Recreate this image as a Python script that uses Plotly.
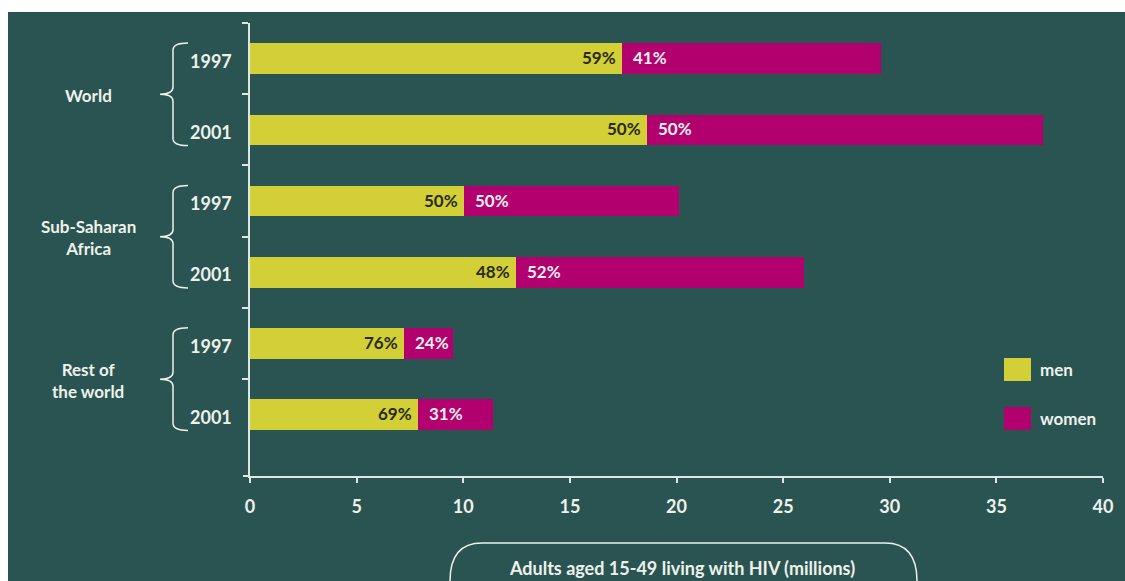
import plotly.graph_objects as go

# ---- data -------------------------------------------------------------
regions = ["World", "Sub-Saharan<br>Africa", "Rest of<br>the world"]
years = ["1997", "2001", "1997", "2001", "1997", "2001"]
totals = [29.6, 37.2, 20.1, 26.0, 9.5, 11.4]          # adults living with HIV, millions
men_share = [59, 50, 50, 48, 76, 69]                 # % of adults who are men
women_share = [41, 50, 50, 52, 24, 31]               # % of adults who are women
x_ticks = [0, 5, 10, 15, 20, 25, 30, 35, 40]

men = [t * s / 100 for t, s in zip(totals, men_share)]
women = [t * s / 100 for t, s in zip(totals, women_share)]
pos = list(range(len(years)))

# ---- style ------------------------------------------------------------
BG = "#2a5452"
YELLOW = "#d3cf36"
MAGENTA = "#b3006f"
LIGHT = "#eef1ea"
DARK = "#2a2a12"
AXIS = "#dde8e3"
FONT = "Lato"

W, H = 1125, 581
ML, MR, MT, MB = 250, 22, 23, 105
PW, PH = W - ML - MR, H - MT - MB
Y_RANGE = [5.86, -0.5]


def px2x(px):
    return (px - ML) / PW


def py2y(py):
    return (H - MB - py) / PH


fig = go.Figure()
fig.add_trace(go.Bar(y=pos, x=men, orientation="h", width=0.43,
                     marker=dict(color=YELLOW, line=dict(width=0)),
                     name="men", showlegend=False, hoverinfo="x"))
fig.add_trace(go.Bar(y=pos, x=women, orientation="h", width=0.43,
                     marker=dict(color=MAGENTA, line=dict(width=0)),
                     name="women", showlegend=False, hoverinfo="x"))

ann = []
# percentage labels at the men/women boundary
for p, m, ms, ws in zip(pos, men, men_share, women_share):
    ann.append(dict(x=m, y=p, xref="x", yref="y", text=f"{ms}%", showarrow=False,
                    xanchor="right", xshift=-4, yshift=1,
                    font=dict(family=FONT, size=17, color=DARK, weight="bold")))
    ann.append(dict(x=m, y=p, xref="x", yref="y", text=f"{ws}%", showarrow=False,
                    xanchor="left", xshift=9, yshift=1,
                    font=dict(family=FONT, size=17, color=LIGHT, weight="bold")))

# year labels
for p, yr in zip(pos, years):
    ann.append(dict(x=px2x(234), y=p, xref="paper", yref="y", text=yr, showarrow=False,
                    xanchor="right", yshift=-2,
                    font=dict(family=FONT, size=18, color=LIGHT, weight="bold")))

shapes = []
# region labels with curly braces
for g, name in enumerate(regions):
    top, bot = 2 * g - 0.22, 2 * g + 1.22
    mid = 2 * g + 0.5
    ann.append(dict(x=px2x(88), y=mid, xref="paper", yref="y", text=name, showarrow=False,
                    xanchor="center", align="center", yshift=-1,
                    font=dict(family=FONT, size=17, color=LIGHT, weight="bold")))
    xs, xv, xt = px2x(188), px2x(173), px2x(160)
    c = 0.1
    path = (f"M{xs},{top} Q{xv},{top} {xv},{top + c} "
            f"L{xv},{mid - c} Q{xv},{mid} {xt},{mid} "
            f"Q{xv},{mid} {xv},{mid + c} "
            f"L{xv},{bot - c} Q{xv},{bot} {xs},{bot}")
    shapes.append(dict(type="path", path=path, xref="paper", yref="y",
                       line=dict(color=LIGHT, width=1.5)))

# x-axis line stub left of the origin
shapes.append(dict(type="line", xref="paper", yref="paper", x0=px2x(243), x1=0,
                   y0=0, y1=0, line=dict(color=AXIS, width=2)))

# rounded frame around the axis title
fx0, fx1 = px2x(450), px2x(917)
fi0, fi1 = px2x(482), px2x(885)
ft, fb = py2y(543), py2y(581)
frame = (f"M{fx0},{fb} Q{fx0},{ft} {fi0},{ft} L{fi1},{ft} Q{fx1},{ft} {fx1},{fb}")
shapes.append(dict(type="path", path=frame, xref="paper", yref="paper",
                   line=dict(color=LIGHT, width=1.5)))
ann.append(dict(x=px2x(682), y=py2y(568), xref="paper", yref="paper",
                text="Adults aged 15-49 living with HIV (millions)", showarrow=False,
                xanchor="center", yanchor="middle",
                font=dict(family=FONT, size=18, color=LIGHT, weight="bold")))

# legend
for (y0, y1, col, lab) in [(358, 381, YELLOW, "men"), (407, 430, MAGENTA, "women")]:
    shapes.append(dict(type="rect", xref="paper", yref="paper",
                       x0=px2x(1004), x1=px2x(1031), y0=py2y(y1), y1=py2y(y0),
                       fillcolor=col, line=dict(width=0)))
    ann.append(dict(x=px2x(1038), y=py2y((y0 + y1) / 2), xref="paper", yref="paper",
                    text=lab, showarrow=False, xanchor="left", yanchor="middle",
                    font=dict(family=FONT, size=17, color=LIGHT, weight="bold")))

# white page edges
shapes.append(dict(type="rect", xref="paper", yref="paper", x0=px2x(0), x1=px2x(W),
                   y0=py2y(12), y1=py2y(0), fillcolor="white", line=dict(width=0)))
shapes.append(dict(type="rect", xref="paper", yref="paper", x0=px2x(0), x1=px2x(8),
                   y0=py2y(H), y1=py2y(0), fillcolor="white", line=dict(width=0)))

fig.update_layout(
    width=W, height=H,
    margin=dict(l=ML, r=MR, t=MT, b=MB, pad=0),
    paper_bgcolor=BG, plot_bgcolor=BG,
    barmode="stack", bargap=0,
    showlegend=False,
    annotations=ann, shapes=shapes,
    font=dict(family=FONT, color=LIGHT),
    xaxis=dict(range=[0, 40], tickvals=x_ticks, ticktext=[str(v) for v in x_ticks],
               showgrid=False, zeroline=False, showline=True, linecolor=AXIS, linewidth=2,
               ticks="outside", ticklen=5, tickwidth=2, tickcolor=AXIS,
               ticklabelstandoff=8,
               tickfont=dict(family=FONT, size=18, color=LIGHT, weight="bold"),
               fixedrange=True),
    yaxis=dict(range=Y_RANGE, showgrid=False, zeroline=False, showline=True,
               linecolor=AXIS, linewidth=2, showticklabels=False,
               tickvals=[-0.5, 0.5, 1.5, 2.5, 3.5, 4.5], ticks="outside", ticklen=6,
               tickwidth=2, tickcolor=AXIS, fixedrange=True),
)

fig.write_html("out.html")
